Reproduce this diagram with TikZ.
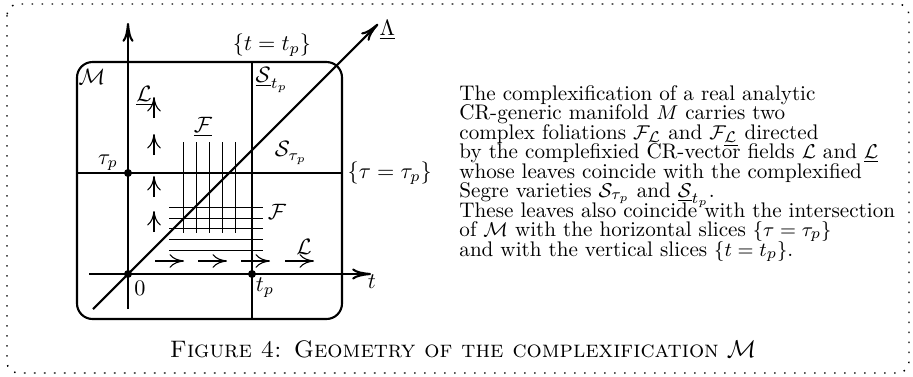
\documentclass[tikz,border=0pt]{standalone}
\usetikzlibrary{arrows.meta}
\begin{document}
\begin{tikzpicture}[x=0.45pt,y=-0.45pt,
  frame/.style={line width=0.65pt,dash pattern=on 0.7pt off 3.8pt,rounded corners=5pt},
  thickline/.style={line width=0.95pt},
  midline/.style={line width=0.6pt},
  gridline/.style={line width=0.45pt},
  axisarrow/.style={thickline,-{Computer Modern Rightarrow[length=8.5pt,width=5pt]}},
  fieldarrow/.style={line width=0.5pt,-{Computer Modern Rightarrow[length=6.5pt,width=6.2pt]}},
  dot/.style={circle,fill,inner sep=0pt,minimum size=3.6pt},
  lbl/.style={inner sep=1pt},
  txtline/.style={anchor=base west,inner sep=0pt,font=\fontsize{9.5}{11}\selectfont}]
\useasboundingbox (0,0) rectangle (913,376);
\draw[frame] (7,4) rectangle (909,373);
% manifold box
\draw[thickline,rounded corners=7pt] (77,62) rectangle (342,319);
% points
\node[dot] (O) at (128,274) {};
\node[dot] (P) at (252,274) {};
\node[dot] (Q) at (128,173) {};
\coordinate (tL) at (89,274);
\coordinate (tR) at (371,274);
\coordinate (uB) at (128,309);
\coordinate (uT) at (128,23);
\coordinate (vT) at (252,62);
\coordinate (vB) at (252,319);
\coordinate (hL) at (77,173);
\coordinate (hR) at (342,173);
\coordinate (dB) at (93,309);
\coordinate (dT) at (378,24);
% slices
\draw[midline] (vT) -- (vB);
\draw[midline] (hL) -- (hR);
% grid
\foreach \x in {183,196,209,222,235} \draw[gridline] (\x,142) -- (\x,233);
\foreach \y in {207,218,228.5,239,250} \draw[gridline] (169,\y) -- (263,\y);
% axes
\draw[axisarrow] (tL) -- (tR);
\draw[axisarrow] (uB) -- (uT);
\draw[axisarrow] (dB) -- (dT);
% field arrows
\foreach \y in {118,155,197,232} \draw[fieldarrow] (154,\y) -- (154,\y-21);
\foreach \x in {155,198,241,285} \draw[fieldarrow] (\x,261) -- (\x+29,261);
% labels
\node[lbl] (lM) at (92,77) {$\mathcal{M}$};
\node[lbl,anchor=west] (lSt) at (253,80) {$\underline{\mathcal{S}}_{t_p}$};
\node[lbl] (lSr) at (291,153) {$\mathcal{S}_{\tau_p}$};
\node[lbl] (lLu) at (144,96) {$\underline{\mathcal{L}}$};
\node[lbl] (lFu) at (203,127) {$\underline{\mathcal{F}}$};
\node[lbl] (lF) at (277,212) {$\mathcal{F}$};
\node[lbl] (lL) at (304,247) {$\mathcal{L}$};
\node[lbl] (ltp) at (265,288) {$t_p$};
\node[lbl] (l0) at (140,288) {$0$};
\node[lbl] (ltau) at (108,163) {$\tau_p$};
\node[lbl] (lt) at (372,282) {$t$};
\node[lbl] (lslt) at (272,45) {$\{t=t_p\}$};
\node[lbl,anchor=west] (lsltau) at (345,173) {$\{\tau=\tau_p\}$};
\node[lbl,anchor=west] (lLam) at (377,30) {$\underline{\Lambda}$};
% text
\node[txtline] (t1) at (459,100) {The complexification of a real analytic};
\node[txtline] (t2) at (459,119.5) {CR-generic manifold $M$ carries two};
\node[txtline] (t3) at (459,139) {complex foliations $\mathcal{F}_{\mathcal{L}}$ and $\mathcal{F}_{\underline{\mathcal{L}}}$ directed};
\node[txtline] (t4) at (459,158.5) {by the complefixied CR-vector fields $\mathcal{L}$ and $\underline{\mathcal{L}}$};
\node[txtline] (t5) at (459,178) {whose leaves coincide with the complexified};
\node[txtline] (t6) at (459,197.5) {Segre varieties $\mathcal{S}_{\tau_p}$ and $\underline{\mathcal{S}}_{t_p}$.};
\node[txtline] (t7) at (459,217) {These leaves also coincide with the intersection};
\node[txtline] (t8) at (459,236.5) {of $\mathcal{M}$ with the horizontal slices $\{\tau=\tau_p\}$};
\node[txtline] (t9) at (459,256) {and with the vertical slices $\{t=t_p\}$.};
% caption
\node (cap) at (463,349) {\fontsize{10.75}{13}\selectfont\textsc{Figure 4: Geometry of the complexification} $\mathcal{M}$};
\end{tikzpicture}
\end{document}
